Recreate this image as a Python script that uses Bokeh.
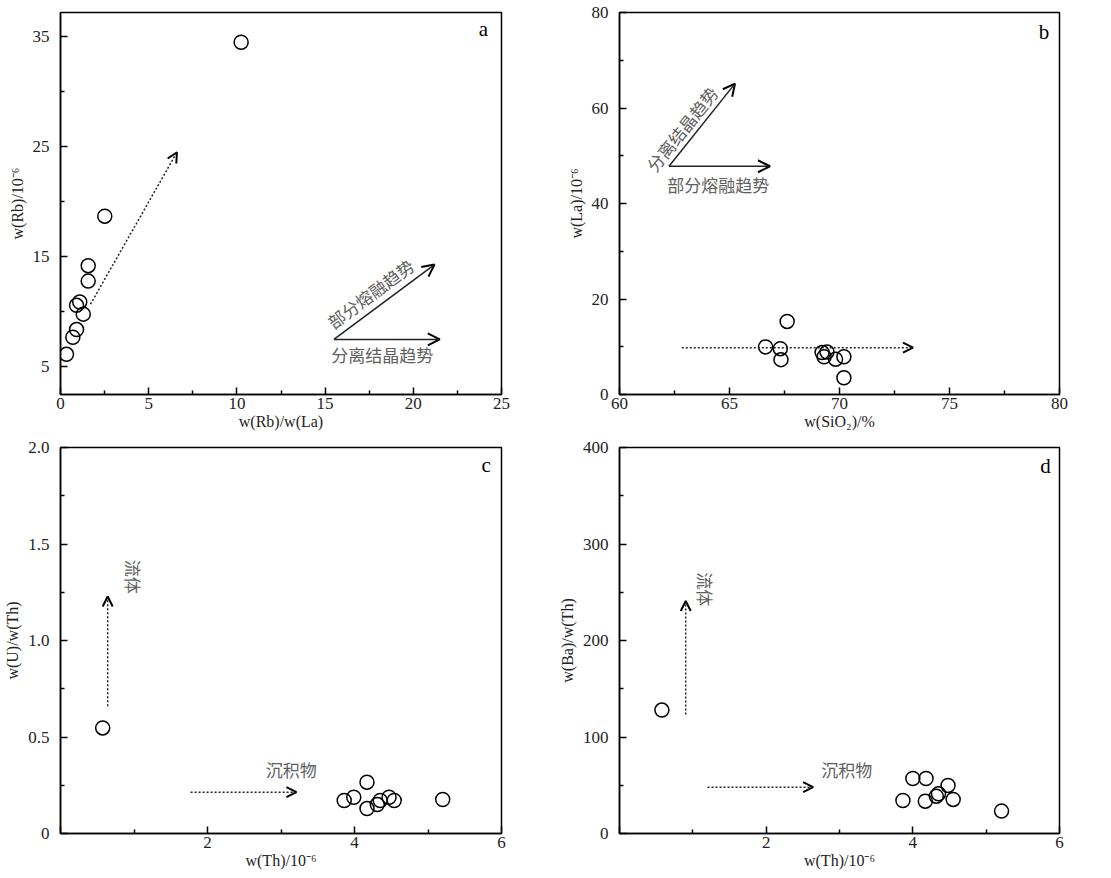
from bokeh.plotting import figure
from bokeh.layouts import gridplot
from bokeh.models import Arrow, OpenHead, FixedTicker
from bokeh.core.properties import value
from bokeh.embed import file_html
from bokeh.resources import INLINE
import math

# ---- data ----
a_x = [10.24, 2.51, 1.57, 1.57, 1.09, 0.91, 1.29, 0.91, 0.70, 0.34]
a_y = [34.5, 18.7, 14.2, 12.8, 10.9, 10.6, 9.8, 8.4, 7.7, 6.15]

b_x = [67.62, 66.64, 67.31, 67.34, 69.21, 69.43, 69.30, 69.82, 70.20, 70.20]
b_y = [15.3, 9.97, 9.6, 7.3, 8.8, 8.9, 7.9, 7.4, 7.9, 3.5]

c_x = [0.574, 3.86, 3.99, 4.17, 4.17, 4.31, 4.35, 4.47, 4.54, 5.20]
c_y = [0.547, 0.171, 0.188, 0.266, 0.129, 0.150, 0.171, 0.188, 0.171, 0.176]

d_x = [0.578, 3.865, 4.00, 4.18, 4.17, 4.32, 4.35, 4.48, 4.55, 5.21]
d_y = [127.9, 34.2, 57.0, 57.0, 33.5, 38.7, 41.1, 49.8, 35.3, 23.2]

# arrows: (x_start, y_start, x_end, y_end)
a_dotted = [(1.70, 10.7, 6.6, 24.5)]
a_solid = [(15.5, 7.5, 21.5, 7.5), (15.5, 7.5, 21.2, 14.3)]
b_dotted = [(62.83, 9.8, 73.34, 9.8)]
b_solid = [(62.25, 47.8, 66.84, 47.8), (62.25, 47.8, 65.25, 65.1)]
c_dotted = [(0.642, 0.659, 0.642, 1.228), (1.77, 0.214, 3.21, 0.214)]
d_dotted = [(0.903, 123.4, 0.903, 241.0), (1.20, 48.0, 2.64, 48.0)]

SERIF = "Liberation Serif"
CJK = "Noto Sans CJK SC"
GRAY = "#606060"


def make_fig(xr, yr, fw, fh, bl, br, bt, bb, xt, xminor, yt, yminor, xlab, ylab,
             xover=None, yover=None):
    p = figure(x_range=xr, y_range=yr, frame_width=fw, frame_height=fh,
               min_border_left=bl, min_border_right=br, min_border_top=bt,
               min_border_bottom=bb, output_backend="svg", toolbar_location=None,
               background_fill_color="white", border_fill_color="white")
    p.grid.visible = False
    p.outline_line_color = "black"
    p.outline_line_width = 1.5
    p.outline_line_alpha = 1
    for ax in (p.xaxis[0], p.yaxis[0]):
        ax.axis_line_width = 1.5
        ax.major_tick_in = 7
        ax.major_tick_out = 0
        ax.minor_tick_in = 4
        ax.minor_tick_out = 0
        ax.major_tick_line_width = 1.5
        ax.minor_tick_line_width = 1.5
        ax.major_label_text_font = SERIF
        ax.major_label_text_font_size = "17px"
        ax.major_label_text_color = "#222222"
        ax.axis_label_text_font = SERIF
        ax.axis_label_text_font_size = "16px"
        ax.axis_label_text_font_style = "normal"
        ax.axis_label_text_color = "#222222"
    p.xaxis[0].ticker = FixedTicker(ticks=xt, minor_ticks=xminor)
    p.yaxis[0].ticker = FixedTicker(ticks=yt, minor_ticks=yminor)
    p.xaxis[0].major_label_standoff = 3
    p.yaxis[0].major_label_standoff = 11
    p.xaxis[0].axis_label_standoff = 1
    p.yaxis[0].axis_label_standoff = 4
    p.xaxis[0].axis_label = xlab
    p.yaxis[0].axis_label = ylab
    if xover:
        p.xaxis[0].major_label_overrides = xover
    if yover:
        p.yaxis[0].major_label_overrides = yover
    return p


def add_arrows(p, arrs, dotted, head=10):
    for (x0, y0, x1, y1) in arrs:
        p.add_layout(Arrow(end=OpenHead(size=head, line_width=2, line_color="black"),
                           x_start=x0, y_start=y0, x_end=x1, y_end=y1,
                           line_width=1.5,
                           line_dash="2 2" if dotted else "solid",
                           line_color="#222222"))


def circles(p, xs, ys):
    p.scatter(xs, ys, marker="circle", size=14, fill_color=None,
              line_color="black", line_width=1.5)


def letter(p, x, y, t):
    p.text([x], [y], text=[t], text_font=value(SERIF), text_font_size="21px",
           text_align="center", text_baseline="middle", text_color="black")


def cjk(p, x, y, t, angle=0.0, size="17px"):
    p.text([x], [y], text=[t], text_font=value(CJK), text_font_size=size,
           text_align="center", text_baseline="middle", text_color=GRAY,
           angle=angle)


# panel a
pa = make_fig((0, 25), (2.5, 37.2), 441, 382, 60, 54, 12, 41,
              [0, 5, 10, 15, 20, 25], [2.5, 7.5, 12.5, 17.5, 22.5],
              [5, 15, 25, 35], [10, 20, 30],
              "w(Rb)/w(La)", "w(Rb)/10⁻⁶")
circles(pa, a_x, a_y)
add_arrows(pa, a_dotted, True)
add_arrows(pa, a_solid, False, head=12)
cjk(pa, 17.57, 11.68, "部分熔融趋势", angle=math.radians(36.7))
cjk(pa, 18.24, 6.15, "分离结晶趋势")
letter(pa, 23.98, 35.7, "a")

# panel b
pb = make_fig((60, 80), (0, 80), 440, 382, 63, 53, 12, 41,
              [60, 65, 70, 75, 80], [62.5, 67.5, 72.5, 77.5],
              [0, 20, 40, 60, 80], [10, 30, 50, 70],
              "w(SiO₂)/%", "w(La)/10⁻⁶")
circles(pb, b_x, b_y)
add_arrows(pb, b_dotted, True)
add_arrows(pb, b_solid, False, head=12)
cjk(pb, 62.83, 55.6, "分离结晶趋势", angle=math.radians(51.4))
cjk(pb, 64.49, 43.9, "部分熔融趋势")
letter(pb, 79.29, 75.9, "b")

# panel c
pc = make_fig((0, 6), (0, 2), 441, 386, 59, 55, 12, 44,
              [0, 2, 4, 6], [1, 3, 5],
              [0, 0.5, 1.0, 1.5, 2.0], [0.25, 0.75, 1.25, 1.75],
              "w(Th)/10⁻⁶", "w(U)/w(Th)",
              xover={0: ""}, yover={0: "0", 0.5: "0.5", 1: "1.0", 1.5: "1.5", 2: "2.0"})
circles(pc, c_x, c_y)
add_arrows(pc, c_dotted, True)
cjk(pc, 0.99, 1.33, "流体", angle=-math.pi / 2)
cjk(pc, 3.14, 0.331, "沉积物")
letter(pc, 5.79, 1.909, "c")

# panel d
pd = make_fig((0, 6), (0, 400), 440, 386, 63, 53, 12, 44,
              [0, 2, 4, 6], [1, 3, 5],
              [0, 100, 200, 300, 400], [50, 150, 250, 350],
              "w(Th)/10⁻⁶", "w(Ba)/w(Th)",
              xover={0: ""})
circles(pd, d_x, d_y)
add_arrows(pd, d_dotted, True)
cjk(pd, 1.17, 253, "流体", angle=-math.pi / 2)
cjk(pd, 3.10, 66.4, "沉积物")
letter(pd, 5.81, 381, "d")

grid = gridplot([[pa, pb], [pc, pd]], toolbar_location=None)
open("out.html", "w").write(file_html(grid, INLINE))
